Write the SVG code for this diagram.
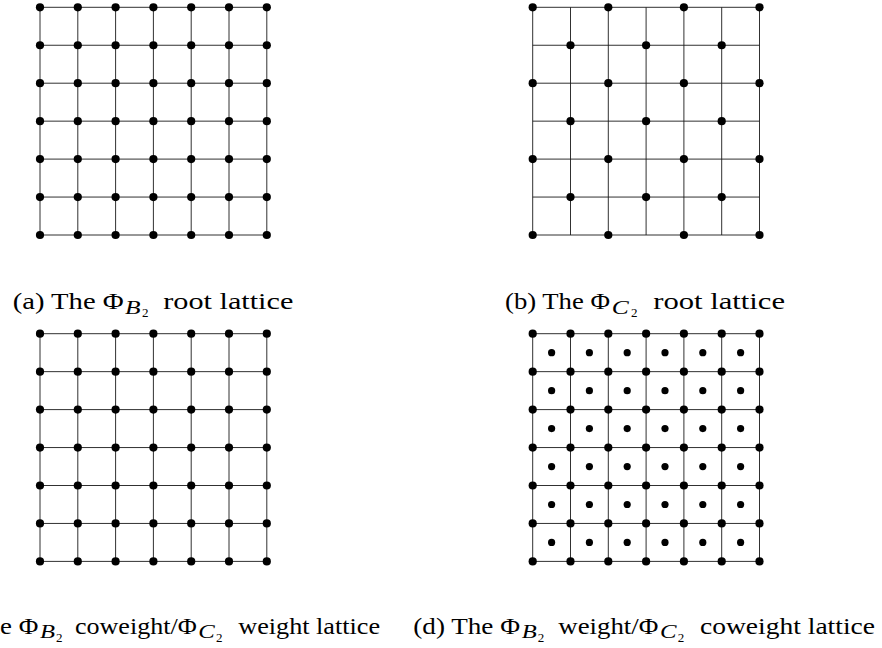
<svg xmlns="http://www.w3.org/2000/svg" xmlns:xlink="http://www.w3.org/1999/xlink" width="882" height="648" viewBox="0 0 882 648">
<style>
.g{fill:none;stroke:#1a1a1a;stroke-width:0.9}
.d{fill:#000}
.t{font-family:"Liberation Serif","Times New Roman",serif;font-size:24px;fill:#000}
.sub{font-style:italic;font-size:18px}
.ss{font-size:13px}
</style>
<defs>
<path id="grid" class="g" d="M0,0H226.8M0,37.95H226.8M0,75.9H226.8M0,113.85H226.8M0,151.8H226.8M0,189.75H226.8M0,227.7H226.8M0,0V227.7M37.8,0V227.7M75.6,0V227.7M113.4,0V227.7M151.2,0V227.7M189,0V227.7M226.8,0V227.7"/>
<circle id="dot" class="d" r="4.1"/>
<circle id="sdot" class="d" r="3.6"/>
<g id="row7"><use href="#dot" x="0"/><use href="#dot" x="37.8"/><use href="#dot" x="75.6"/><use href="#dot" x="113.4"/><use href="#dot" x="151.2"/><use href="#dot" x="189"/><use href="#dot" x="226.8"/></g>
<g id="rowE"><use href="#dot" x="0"/><use href="#dot" x="75.6"/><use href="#dot" x="151.2"/><use href="#dot" x="226.8"/></g>
<g id="rowO"><use href="#dot" x="37.8"/><use href="#dot" x="113.4"/><use href="#dot" x="189"/></g>
<g id="rowC"><use href="#sdot" x="18.9"/><use href="#sdot" x="56.7"/><use href="#sdot" x="94.5"/><use href="#sdot" x="132.3"/><use href="#sdot" x="170.1"/><use href="#sdot" x="207.9"/></g>
<g id="full"><use href="#grid"/><use href="#row7" y="0"/><use href="#row7" y="37.95"/><use href="#row7" y="75.9"/><use href="#row7" y="113.85"/><use href="#row7" y="151.8"/><use href="#row7" y="189.75"/><use href="#row7" y="227.7"/></g>
</defs>

<g id="panel-a" transform="translate(40,7.3)">
<use href="#full"/>
</g>

<g id="panel-b" transform="translate(532.7,7.3)">
<use href="#grid"/>
<use href="#rowE" y="0"/><use href="#rowO" y="37.95"/><use href="#rowE" y="75.9"/><use href="#rowO" y="113.85"/><use href="#rowE" y="151.8"/><use href="#rowO" y="189.75"/><use href="#rowE" y="227.7"/>
</g>

<g id="panel-c" transform="translate(40,333.7)">
<use href="#full"/>
</g>

<g id="panel-d" transform="translate(532.7,333.7)">
<use href="#full"/>
<use href="#rowC" y="18.975"/><use href="#rowC" y="56.925"/><use href="#rowC" y="94.875"/><use href="#rowC" y="132.825"/><use href="#rowC" y="170.775"/><use href="#rowC" y="208.725"/>
</g>

<g id="caption-a">
<text class="t" x="12.7" y="309.3" textLength="111" lengthAdjust="spacingAndGlyphs">(a) The Φ</text>
<text class="t sub" x="125" y="313.5" textLength="15.5" lengthAdjust="spacingAndGlyphs">B</text>
<text class="t ss" x="142" y="317">2</text>
<text class="t" x="163.3" y="309.3" textLength="130" lengthAdjust="spacingAndGlyphs">root lattice</text>
</g>

<g id="caption-b">
<text class="t" x="505" y="309.3" textLength="105" lengthAdjust="spacingAndGlyphs">(b) The Φ</text>
<text class="t sub" x="611.7" y="313.5" textLength="17" lengthAdjust="spacingAndGlyphs">C</text>
<text class="t ss" x="631" y="317">2</text>
<text class="t" x="653.3" y="309.3" textLength="131.7" lengthAdjust="spacingAndGlyphs">root lattice</text>
</g>

<g id="caption-c">
<text class="t" x="-65.7" y="634" textLength="104" lengthAdjust="spacingAndGlyphs">(c) The Φ</text>
<text class="t sub" x="40" y="638.2" textLength="15" lengthAdjust="spacingAndGlyphs">B</text>
<text class="t ss" x="56" y="641.5">2</text>
<text class="t" x="75" y="634" textLength="121.7" lengthAdjust="spacingAndGlyphs">coweight/Φ</text>
<text class="t sub" x="198.3" y="638.2" textLength="16.5" lengthAdjust="spacingAndGlyphs">C</text>
<text class="t ss" x="216" y="641.5">2</text>
<text class="t" x="238.3" y="634" textLength="141.7" lengthAdjust="spacingAndGlyphs">weight lattice</text>
</g>

<g id="caption-d">
<text class="t" x="413.3" y="634" textLength="106.7" lengthAdjust="spacingAndGlyphs">(d) The Φ</text>
<text class="t sub" x="521.7" y="638.2" textLength="15" lengthAdjust="spacingAndGlyphs">B</text>
<text class="t ss" x="537.7" y="641.5">2</text>
<text class="t" x="558.3" y="634" textLength="100" lengthAdjust="spacingAndGlyphs">weight/Φ</text>
<text class="t sub" x="660" y="638.2" textLength="16.5" lengthAdjust="spacingAndGlyphs">C</text>
<text class="t ss" x="677.7" y="641.5">2</text>
<text class="t" x="700" y="634" textLength="175" lengthAdjust="spacingAndGlyphs">coweight lattice</text>
</g>
</svg>
